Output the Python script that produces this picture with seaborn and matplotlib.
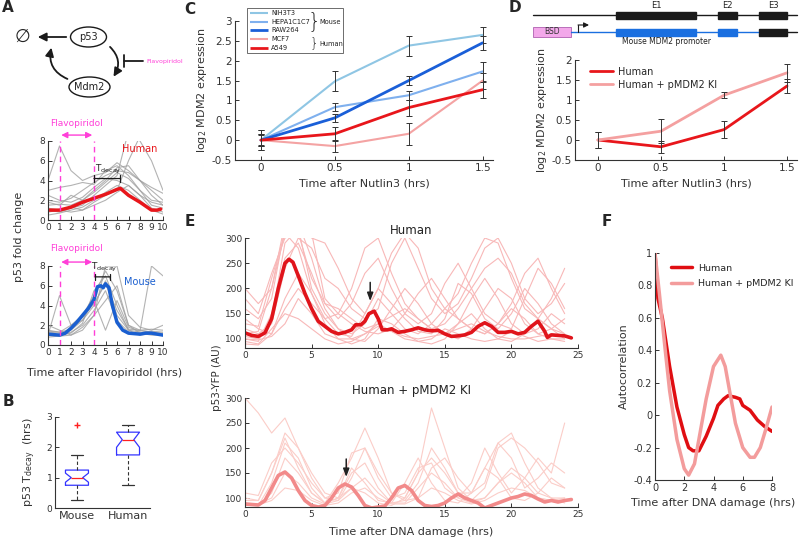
"""Multi-panel p53 / MDM2 figure recreated with seaborn + matplotlib."""

import matplotlib
matplotlib.use("Agg")
import matplotlib.pyplot as plt
from matplotlib.patches import Ellipse, FancyArrowPatch, Rectangle
from matplotlib.ticker import FuncFormatter
import pandas as pd
import seaborn as sns

# ---------------- data ----------------
# Panel A: p53 fold change after Flavopiridol (single cells, hourly) + mean
A_T = list(range(11))
A_HUMAN_CELLS = [
    [2.0, 1.8, 2.2, 3.0, 3.8, 4.5, 5.0, 4.8, 4.0, 3.3, 2.7],
    [1.5, 1.6, 1.5, 2.0, 3.0, 4.0, 5.3, 5.5, 4.0, 2.5, 1.5],
    [3.0, 3.3, 3.5, 3.8, 3.6, 5.0, 5.5, 4.5, 3.0, 1.5, 1.2],
    [1.0, 0.8, 1.2, 1.5, 2.5, 3.5, 4.5, 9.0, 8.0, 6.0, 3.0],
    [0.5, 0.7, 1.0, 1.3, 2.0, 2.8, 3.5, 3.0, 2.0, 1.0, 0.6],
    [2.5, 2.0, 1.8, 2.3, 3.3, 4.2, 4.0, 3.5, 2.5, 1.8, 1.5],
    [1.2, 1.0, 0.8, 1.0, 1.8, 2.5, 3.0, 6.0, 8.5, 9.0, 9.0],
    [1.8, 1.5, 2.5, 2.0, 2.8, 3.8, 4.8, 4.2, 3.0, 2.0, 1.8],
    [4.0, 7.5, 5.0, 4.0, 4.5, 4.8, 5.8, 5.0, 4.0, 3.0, 2.0],
    [0.8, 1.0, 1.3, 1.0, 1.5, 2.0, 2.8, 3.5, 2.5, 1.2, 0.8],
]
A_MOUSE_CELLS = [
    [1.3, 1.2, 1.5, 2.5, 4.0, 6.5, 3.0, 1.5, 1.3, 1.4, 1.3],
    [1.0, 1.0, 1.3, 2.0, 3.5, 5.5, 2.5, 1.3, 1.2, 1.0, 1.0],
    [1.5, 1.3, 2.0, 3.0, 5.0, 7.5, 5.5, 2.0, 1.5, 1.6, 1.5],
    [0.8, 0.9, 1.0, 1.8, 3.0, 4.5, 6.0, 2.0, 1.2, 1.2, 1.0],
    [2.0, 1.5, 1.0, 1.5, 3.0, 8.0, 8.0, 3.0, 1.8, 1.5, 2.0],
    [1.2, 1.0, 1.2, 2.2, 5.5, 7.0, 4.0, 1.5, 1.0, 1.2, 1.1],
    [1.0, 5.0, 2.0, 2.5, 4.5, 1.5, 4.5, 1.8, 1.4, 8.0, 7.0],
    [1.4, 1.3, 1.6, 2.8, 4.2, 6.2, 3.5, 1.6, 1.5, 1.3, 1.2],
]
A_HUMAN_MEAN_T = [0, 1, 2, 3, 4, 5, 6, 6.3, 7, 8, 9, 9.5, 9.8]
A_HUMAN_MEAN = [1.0, 1.0, 1.3, 1.8, 2.2, 2.6, 3.1, 3.2, 2.5, 1.8, 1.0, 1.0, 1.1]
A_MOUSE_MEAN_T = [0, 1, 1.5, 2, 2.5, 3, 3.5, 4, 4.3, 4.6, 4.8, 5, 5.3, 5.6, 6, 6.5, 7, 8, 8.5, 9, 9.5, 10]
A_MOUSE_MEAN = [1.1, 1.0, 1.2, 1.7, 2.3, 3.0, 3.7, 4.6, 5.9, 6.0, 5.8, 6.2, 5.8, 4.0, 2.3, 1.5, 1.2, 1.1, 1.2, 1.2, 1.1, 1.0]

# Panel B: T_decay box statistics
B_GROUPS = ["Mouse", "Human"]
B_MED = [1.0, 2.25]
B_Q1 = [0.75, 1.75]
B_Q3 = [1.25, 2.5]
B_WLO = [0.25, 0.75]
B_WHI = [1.75, 2.75]
B_CILO = [0.85, 2.0]
B_CIHI = [1.15, 2.5]
B_FLIERS = [[2.75], []]

# Panel C: MDM2 induction after Nutlin3
C_TIME = [0, 0.5, 1, 1.5]
C_LINES = ["NIH3T3", "HEPA1C1C7", "RAW264", "MCF7", "A549"]
C_MEAN = [
    [0, 1.48, 2.38, 2.65],
    [0, 0.83, 1.13, 1.73],
    [0, 0.56, 1.50, 2.45],
    [0, -0.15, 0.16, 1.50],
    [0, 0.16, 0.82, 1.27],
]
C_ERR = [
    [0.25, 0.25, 0.25, 0.20],
    [0.12, 0.10, 0.12, 0.23],
    [0.15, 0.10, 0.12, 0.18],
    [0.15, 0.15, 0.27, 0.20],
    [0.25, 0.17, 0.20, 0.20],
]
C_COLORS = ["#8fc6e4", "#7fb0ee", "#1a5fd8", "#f4a3a3", "#e8161b"]
C_WIDTHS = [1.5, 1.5, 2.0, 1.5, 2.0]

# Panel D: knock-in
D_TIME = [0, 0.5, 1, 1.5]
D_LABELS = ["Human", "Human + pMDM2 KI"]
D_MEAN = [[0, -0.17, 0.26, 1.35], [0, 0.22, 1.12, 1.68]]
D_ERR = [[0.2, 0.15, 0.22, 0.17], [0.2, 0.3, 0.07, 0.22]]
D_COLORS = ["#e8161b", "#f4a0a0"]

# Panel E: p53-YFP single-cell dynamics
E_T = list(range(25))
E_HUMAN_CELLS = [
    [110, 115, 200, 330, 320, 200, 150, 120, 110, 130, 180, 150, 120, 110, 130, 160, 140, 120, 110, 130, 160, 140, 110, 100, 100],
    [130, 125, 220, 310, 280, 190, 140, 110, 105, 150, 200, 170, 140, 115, 110, 140, 210, 190, 140, 120, 150, 200, 170, 130, 110],
    [100, 95, 150, 260, 290, 230, 160, 120, 100, 95, 120, 160, 200, 170, 130, 110, 100, 120, 160, 200, 180, 130, 110, 120, 140],
    [160, 140, 180, 320, 330, 260, 170, 140, 170, 230, 260, 200, 150, 130, 150, 210, 250, 200, 150, 130, 120, 180, 240, 210, 160],
    [90, 88, 110, 180, 230, 190, 130, 100, 90, 100, 140, 130, 110, 95, 90, 100, 130, 150, 120, 100, 95, 110, 140, 120, 100],
    [120, 110, 130, 240, 300, 280, 220, 200, 160, 140, 160, 250, 300, 240, 180, 150, 170, 220, 280, 300, 250, 180, 150, 170, 210],
    [105, 100, 140, 290, 320, 310, 180, 150, 130, 115, 110, 120, 150, 190, 220, 180, 140, 120, 110, 130, 170, 230, 260, 200, 150],
    [140, 120, 110, 160, 200, 170, 140, 150, 200, 280, 300, 230, 170, 140, 120, 110, 130, 180, 220, 180, 130, 110, 120, 150, 130],
    [95, 90, 120, 150, 140, 120, 100, 90, 95, 110, 130, 115, 100, 95, 100, 120, 110, 100, 95, 100, 115, 105, 95, 100, 95],
    [180, 150, 230, 300, 310, 220, 170, 160, 140, 120, 130, 145, 160, 140, 120, 130, 160, 200, 240, 260, 230, 170, 140, 120, 110],
    [100, 98, 105, 130, 180, 150, 110, 100, 100, 110, 125, 115, 105, 100, 105, 110, 120, 130, 115, 105, 100, 100, 105, 110, 105],
    [200, 170, 200, 310, 330, 300, 290, 240, 180, 150, 200, 270, 310, 280, 200, 160, 190, 250, 300, 290, 220, 160, 140, 180, 240],
]
E_KI_CELLS = [
    [90, 85, 130, 210, 180, 120, 90, 100, 160, 130, 95, 90, 130, 180, 130, 95, 90, 110, 160, 140, 100, 95, 110, 140, 120],
    [300, 270, 230, 260, 200, 150, 110, 100, 120, 110, 90, 85, 100, 150, 280, 200, 120, 95, 100, 130, 160, 140, 110, 100, 100],
    [100, 95, 150, 220, 160, 110, 90, 130, 180, 240, 180, 110, 95, 100, 160, 180, 140, 110, 130, 210, 230, 170, 120, 100, 90],
    [85, 85, 110, 180, 150, 110, 90, 100, 150, 170, 120, 90, 95, 130, 200, 160, 110, 95, 120, 200, 220, 200, 170, 130, 120],
    [95, 95, 150, 230, 200, 140, 100, 110, 190, 200, 140, 100, 110, 160, 170, 120, 100, 130, 200, 150, 110, 140, 180, 150, 250],
    [90, 88, 100, 150, 130, 100, 88, 95, 120, 140, 110, 90, 90, 120, 150, 130, 100, 90, 100, 130, 150, 130, 100, 95, 100],
    [110, 105, 170, 200, 170, 130, 100, 95, 140, 200, 150, 110, 100, 150, 180, 150, 110, 110, 160, 210, 180, 120, 140, 170, 150],
    [88, 86, 95, 120, 115, 95, 85, 90, 110, 120, 100, 88, 88, 100, 120, 110, 95, 88, 95, 110, 120, 115, 100, 95, 95],
]
E_MEAN_T = [0, 0.5, 1, 1.5, 2, 2.5, 3, 3.3, 3.6, 4, 4.5, 5, 5.5, 6, 6.5, 7, 7.5, 8, 8.3, 8.7, 9, 9.3, 9.7,
            10, 10.3, 10.7, 11, 11.5, 12, 12.5, 13, 13.5, 14, 14.5, 15, 15.5, 16, 16.5, 17, 17.5, 18, 18.5,
            19, 19.5, 20, 20.5, 21, 21.5, 22, 22.5, 22.7, 23, 23.5, 24, 24.5]
E_HUMAN_MEAN = [112, 107, 105, 112, 140, 200, 250, 258, 252, 225, 190, 160, 135, 125, 115, 110, 113, 118, 128, 128,
                135, 150, 155, 140, 118, 118, 120, 113, 115, 118, 122, 118, 116, 117, 110, 105, 106, 108, 113, 125,
                132, 125, 113, 113, 115, 110, 113, 125, 135, 115, 103, 108, 107, 106, 102]
E_KI_MEAN_T = [0, 0.5, 1, 1.5, 2, 2.5, 3, 3.5, 4, 4.5, 5, 5.5, 6, 6.5, 7, 7.5, 8, 8.5, 9, 9.5, 10, 10.5, 11,
               11.5, 12, 12.5, 13, 13.5, 14, 14.5, 15, 15.5, 16, 16.5, 17, 17.5, 18, 18.5, 19, 19.5, 20, 20.5,
               21, 21.5, 22, 22.5, 23, 23.5, 24, 24.5]
E_KI_MEAN = [88, 87, 86, 95, 120, 145, 152, 140, 115, 95, 85, 82, 85, 100, 120, 128, 122, 105, 85, 80, 82, 84,
             100, 120, 125, 115, 95, 85, 83, 85, 90, 100, 108, 100, 95, 90, 80, 85, 90, 95, 100, 103, 108, 105,
             98, 92, 95, 92, 95, 97]

# Panel F: autocorrelation
F_T_HUMAN = [0, 0.2, 0.5, 1, 1.5, 2, 2.3, 2.6, 3, 3.5, 4, 4.3, 4.7, 5, 5.5, 5.8, 6, 6.5, 7, 7.5, 8]
F_HUMAN = [1.0, 0.72, 0.6, 0.3, 0.05, -0.12, -0.2, -0.22, -0.22, -0.13, -0.02, 0.06, 0.1, 0.12, 0.11, 0.1,
           0.06, 0.03, -0.03, -0.07, -0.1]
F_T_KI = [0, 0.3, 0.7, 1, 1.5, 2, 2.3, 2.7, 3, 3.5, 4, 4.5, 4.8, 5, 5.5, 6, 6.5, 6.8, 7.2, 7.6, 8]
F_KI = [1.0, 0.75, 0.4, 0.15, -0.15, -0.33, -0.37, -0.3, -0.15, 0.1, 0.3, 0.37, 0.3, 0.2, -0.05, -0.2, -0.26,
        -0.26, -0.2, -0.08, 0.05]

# ---------------- style ----------------
sns.set_theme(style="ticks")
plt.rcParams["font.family"] = ["DejaVu Sans"]
plt.rcParams["axes.unicode_minus"] = False
plt.rcParams["mathtext.default"] = "regular"

W, H = 800, 546
fig = plt.figure(figsize=(8, 5.46), dpi=100)
AX_C = "#333333"
MAGENTA = "#ff3fd8"
LAB_FS = 8


def rect(x0, y0, x1, y1):
    return [x0 / W, 1 - y1 / H, (x1 - x0) / W, (y1 - y0) / H]


def style(ax, fs=6.5):
    sns.despine(ax=ax)
    ax.set_facecolor("none")
    for s in ("left", "bottom"):
        ax.spines[s].set_color(AX_C)
        ax.spines[s].set_linewidth(0.8)
    ax.tick_params(direction="in", length=3, width=0.7, labelsize=fs, colors=AX_C, pad=2)
    ax.xaxis.set_major_formatter(FuncFormatter(lambda v, p: f"{v:g}"))
    ax.yaxis.set_major_formatter(FuncFormatter(lambda v, p: f"{v:g}"))
    ax.set_xlabel("")
    ax.set_ylabel("")


def cells_df(t, cells):
    rows = [(i, tt, v) for i, c in enumerate(cells) for tt, v in zip(t, c)]
    return pd.DataFrame(rows, columns=["cell", "t", "v"])


# ---------------- panel A ----------------
for (y0, y1), cells, mt, mv, col, name, flav_y, td in [
    ((141, 220), A_HUMAN_CELLS, A_HUMAN_MEAN_T, A_HUMAN_MEAN, "#e8161b", "Human", (8.6, 9.3), (4.0, 6.3, 4.2)),
    ((266, 345), A_MOUSE_CELLS, A_MOUSE_MEAN_T, A_MOUSE_MEAN, "#1a5fd0", "Mouse", (8.4, 9.3), (4.1, 5.4, 6.9)),
]:
    ax = fig.add_axes(rect(48, y0, 163, y1))
    sns.lineplot(data=cells_df(A_T, cells), x="t", y="v", units="cell", estimator=None,
                 color="#a0a0a0", lw=0.8, alpha=0.8, ax=ax)
    sns.lineplot(x=mt, y=mv, color=col, lw=2.5, ax=ax)
    for xv in (1, 4):
        ax.axvline(xv, color=MAGENTA, ls=(0, (4, 3)), lw=1)
    ax.set_xlim(0, 10)
    ax.set_ylim(0, 8)
    ax.set_xticks(range(11))
    ax.set_yticks([0, 2, 4, 6, 8])
    style(ax, fs=6.5)
    ax.annotate("", xy=(1.15, flav_y[0]), xytext=(3.85, flav_y[0]), annotation_clip=False,
                arrowprops=dict(arrowstyle="<|-|>,head_length=0.3,head_width=0.15", color=MAGENTA, lw=1,
                                shrinkA=0, shrinkB=0))
    ax.text(2.5, flav_y[1], "Flavopiridol", color=MAGENTA, fontsize=6.5, ha="center", va="bottom", clip_on=False)
    ax.annotate("", xy=(td[0], td[2]), xytext=(td[1], td[2]),
                arrowprops=dict(arrowstyle="|-|,widthA=0.2,widthB=0.2", color="k", lw=0.9, shrinkA=0, shrinkB=0))
    ax.text((td[0] + td[1]) / 2 + 0.1, td[2] + 0.25, r"T$_{decay}$", fontsize=6.5, ha="center", va="bottom")
    ax.text(8.0, 7.2 if name == "Human" else 6.4, name, color=col, fontsize=7, ha="center", va="center")

# ---------------- panel B ----------------
axB = fig.add_axes(rect(55, 417, 150, 508))
stats = [dict(med=B_MED[i], q1=B_Q1[i], q3=B_Q3[i], whislo=B_WLO[i], whishi=B_WHI[i],
              cilo=B_CILO[i], cihi=B_CIHI[i], fliers=B_FLIERS[i], label=B_GROUPS[i]) for i in range(2)]
axB.bxp(stats, positions=[1, 2], widths=0.45, shownotches=True,
        boxprops=dict(color="#3434ff", lw=0.9), medianprops=dict(color="#ff2020", lw=0.9),
        whiskerprops=dict(color=AX_C, ls=(0, (3, 2)), lw=0.8), capprops=dict(color=AX_C, lw=0.9),
        flierprops=dict(marker="+", markeredgecolor="#ff2020", markersize=5))
axB.set_xlim(0.57, 2.43)
axB.set_ylim(0, 3)
axB.set_yticks([0, 1, 2, 3])
style(axB, fs=6.5)
axB.set_xticks([1, 2])
axB.set_xticklabels(B_GROUPS, fontsize=8)
axB.tick_params(axis="x", length=0)

# ---------------- panel C ----------------
axC = fig.add_axes(rect(235, 21, 493, 160))
for vals, errs, colr, lw in zip(C_MEAN, C_ERR, C_COLORS, C_WIDTHS):
    sns.lineplot(x=C_TIME, y=vals, color=colr, lw=lw, ax=axC)
    axC.errorbar(C_TIME, vals, yerr=errs, fmt="none", ecolor=AX_C, elinewidth=0.7, capsize=2, capthick=0.7)
axC.set_xlim(-0.175, 1.57)
axC.set_ylim(-0.5, 3)
axC.set_xticks(C_TIME)
axC.set_yticks([-0.5, 0, 0.5, 1, 1.5, 2, 2.5, 3])
style(axC, fs=7.5)
axC.set_xlabel("Time after Nutlin3 (hrs)", fontsize=LAB_FS, color=AX_C, labelpad=4)
axC.set_ylabel(r"log$_2$ MDM2 expression", fontsize=LAB_FS, color=AX_C, labelpad=2)

# ---------------- panel D ----------------
axD = fig.add_axes(rect(575, 60, 797, 160))
for vals, errs, colr, lab in zip(D_MEAN, D_ERR, D_COLORS, D_LABELS):
    sns.lineplot(x=D_TIME, y=vals, color=colr, lw=2, ax=axD, label=lab)
    axD.errorbar(D_TIME, vals, yerr=errs, fmt="none", ecolor=AX_C, elinewidth=0.7, capsize=2, capthick=0.7)
axD.set_xlim(-0.1825, 1.579)
axD.set_ylim(-0.5, 2)
axD.set_xticks(D_TIME)
axD.set_yticks([-0.5, 0, 0.5, 1, 1.5, 2])
style(axD, fs=7.5)
axD.legend(loc="upper left", bbox_to_anchor=(0.03, 1.02), frameon=False, fontsize=7,
           handlelength=2.3, handletextpad=0.5, labelspacing=0.3)
axD.set_xlabel("Time after Nutlin3 (hrs)", fontsize=LAB_FS, color=AX_C, labelpad=4)
axD.set_ylabel(r"log$_2$ MDM2 expression", fontsize=LAB_FS, color=AX_C, labelpad=2)

# ---------------- panel E ----------------
for (y0, y1), cells, mt, mv, bg, col, title, arr in [
    ((238, 348), E_HUMAN_CELLS, E_MEAN_T, E_HUMAN_MEAN, "#f8b8b8", "#e0141b", "Human", (9.4, 212, 175)),
    ((398, 507), E_KI_CELLS, E_KI_MEAN_T, E_KI_MEAN, "#fbcdc8", "#f28a8a", "Human + pMDM2 KI", (7.6, 178, 142)),
]:
    ax = fig.add_axes(rect(245, y0, 578, y1))
    sns.lineplot(data=cells_df(E_T, cells), x="t", y="v", units="cell", estimator=None,
                 color=bg, lw=0.8, ax=ax)
    sns.lineplot(x=mt, y=mv, color=col, lw=2.6, ax=ax)
    ax.set_xlim(0, 25)
    ax.set_ylim(82, 300)
    ax.set_xticks(range(0, 26, 5))
    ax.set_yticks([100, 150, 200, 250, 300])
    style(ax, fs=6.5)
    ax.set_title(title, fontsize=8.5, color="#222222", pad=3)
    ax.annotate("", xy=(arr[0], arr[2]), xytext=(arr[0], arr[1]),
                arrowprops=dict(arrowstyle="-|>,head_length=0.4,head_width=0.15", color="#222222", lw=1.1,
                                shrinkA=0, shrinkB=0))
    if title != "Human":
        ax.set_xlabel("Time after DNA damage (hrs)", fontsize=LAB_FS, color=AX_C, labelpad=6)

# ---------------- panel F ----------------
axF = fig.add_axes(rect(655, 253, 772, 480))
sns.lineplot(x=F_T_HUMAN, y=F_HUMAN, color="#e00e12", lw=2.5, ax=axF, label="Human")
sns.lineplot(x=F_T_KI, y=F_KI, color="#f39c9c", lw=2.5, ax=axF, label="Human + pMDM2 KI")
axF.set_xlim(0, 8)
axF.set_ylim(-0.4, 1)
axF.set_xticks([0, 2, 4, 6, 8])
axF.set_yticks([-0.4, -0.2, 0, 0.2, 0.4, 0.6, 0.8, 1])
style(axF, fs=7)
axF.legend(loc="upper left", bbox_to_anchor=(0.06, 0.99), frameon=False, fontsize=6.8,
           handlelength=2.3, handletextpad=0.6, labelspacing=0.7)
axF.set_xlabel("Time after DNA damage (hrs)", fontsize=LAB_FS, color=AX_C, labelpad=4)
axF.set_ylabel("Autocorrelation", fontsize=LAB_FS, color=AX_C, labelpad=3)

# ---------------- overlay: diagrams, letters, shared labels ----------------
ov = fig.add_axes([0, 0, 1, 1])
ov.set_xlim(0, W)
ov.set_ylim(H, 0)
ov.axis("off")
ov.patch.set_visible(False)

for x, y, s in [(8, 8, "A"), (8, 402, "B"), (190, 10, "C"), (515, 8, "D"), (190, 221, "E"), (607, 222, "F")]:
    ov.text(x, y, s, fontsize=11, fontweight="bold", ha="center", va="center")

# p53 / Mdm2 loop
ov.add_patch(Ellipse((88.5, 37), 36, 20, fill=False, lw=1, ec="k"))
ov.add_patch(Ellipse((89.5, 87), 41, 20, fill=False, lw=1, ec="k"))
ov.text(88.5, 37, "p53", fontsize=7, ha="center", va="center", color="#222222")
ov.text(89.5, 87, "Mdm2", fontsize=7, ha="center", va="center", color="#222222")
ov.text(22, 37, "\u2205", fontsize=13, ha="center", va="center")
ov.add_patch(FancyArrowPatch((69, 37), (35, 37), arrowstyle="-|>,head_length=5,head_width=2.5", lw=1.3, color="k"))
ov.add_patch(FancyArrowPatch((108, 45), (112, 79), connectionstyle="arc3,rad=-0.45",
                             arrowstyle="-|>,head_length=5,head_width=2.5", lw=1.3, color="k"))
ov.add_patch(FancyArrowPatch((70, 80), (52, 45), connectionstyle="arc3,rad=-0.45",
                             arrowstyle="-|>,head_length=5,head_width=2.5", lw=1.3, color="k"))
ov.plot([124, 143], [61, 61], color="k", lw=1.3)
ov.plot([124, 124], [55, 67], color="k", lw=1.3)
ov.text(146, 61, "Flavopiridol", fontsize=4.5, color=MAGENTA, ha="left", va="center")

ov.text(19, 237, "p53 fold change", fontsize=LAB_FS, rotation=90, ha="center", va="center", color=AX_C)
ov.text(105, 373, "Time after Flavopiridol (hrs)", fontsize=LAB_FS, ha="center", va="center", color=AX_C)
ov.text(30, 462, r"p53 T$_{decay}$  (hrs)", fontsize=LAB_FS, rotation=90, ha="center", va="center", color=AX_C)
ov.text(217, 378, "p53-YFP (AU)", fontsize=7.5, rotation=90, ha="center", va="center", color=AX_C)

# panel C legend with species braces
ov.add_patch(Rectangle((247, 8), 96, 45, fill=True, fc="white", ec="#555555", lw=0.6))
for yy, name, colr, lw in zip([13, 21.5, 30, 39, 47.5], C_LINES, C_COLORS, C_WIDTHS):
    ov.plot([250, 268], [yy, yy], color=colr, lw=lw, solid_capstyle="butt")
    ov.text(271, yy, name, fontsize=4.8, ha="left", va="center", color="#222222")
ov.text(314, 21.5, "}", fontsize=15, ha="center", va="center", color="#222222", fontweight="light")
ov.text(319, 21.5, "Mouse", fontsize=4.8, ha="left", va="center", color="#222222")
ov.text(314, 43.5, "}", fontsize=10, ha="center", va="center", color="#222222", fontweight="light")
ov.text(319, 43.5, "Human", fontsize=4.8, ha="left", va="center", color="#222222")

# panel D construct diagram
ov.plot([533, 797], [15, 15], color="k", lw=1)
for (x0, x1), lab in zip([(616, 696), (718, 737), (759, 787)], ["E1", "E2", "E3"]):
    ov.add_patch(Rectangle((x0, 11.5), x1 - x0, 7.5, color="k"))
    ov.text((x0 + x1) / 2, 5.5, lab, fontsize=6, ha="center", va="center", color="#222222")
ov.add_patch(Rectangle((533, 27), 38, 10, fc="#f3a8ea", ec="#b060b0", lw=0.6))
ov.text(552, 32, "BSD", fontsize=5.5, ha="center", va="center", color="#333333")
ov.plot([571, 759], [32, 32], color="#1a6fe0", lw=1)
ov.plot([759, 797], [32, 32], color="k", lw=1)
for x0, x1 in [(616, 696), (718, 737)]:
    ov.add_patch(Rectangle((x0, 28.5), x1 - x0, 7, color="#1a6fe0"))
ov.add_patch(Rectangle((759, 28.5), 28, 7, color="k"))
ov.plot([578, 578], [32, 25], color="k", lw=0.8)
ov.add_patch(FancyArrowPatch((578, 25), (589, 25), arrowstyle="-|>,head_length=3,head_width=1.5",
                             lw=0.8, color="k", shrinkA=0, shrinkB=0))
ov.text(667, 42, "Mouse MDM2 promoter", fontsize=5.5, ha="center", va="center", color="#222222")

fig.savefig("out.png", dpi=100)
